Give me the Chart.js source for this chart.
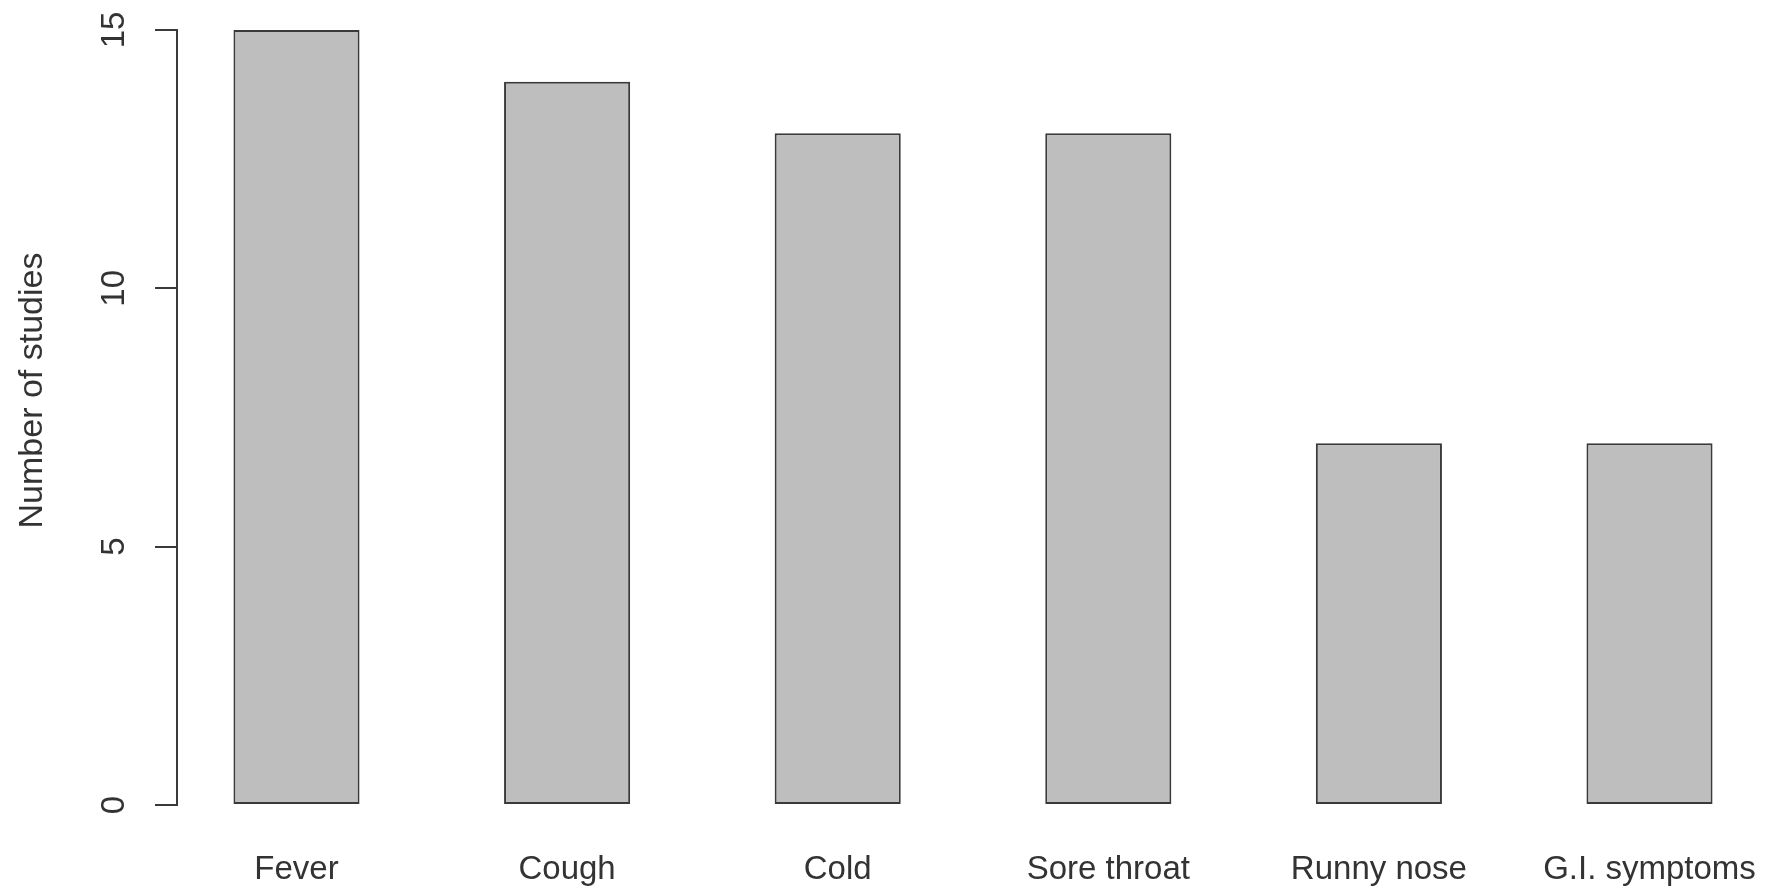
<!DOCTYPE html>
<html>
<head>
<meta charset="utf-8">
<script src="https://cdn.jsdelivr.net/npm/chart.js@4"></script>
<style>
  html, body { margin: 0; padding: 0; background: #ffffff; }
  #wrap { width: 1765px; height: 890px; }
</style>
</head>
<body>
<div id="wrap"><canvas id="c" width="1765" height="890"></canvas></div>
<script>
const categories = ["Fever", "Cough", "Cold", "Sore throat", "Runny nose", "G.I. symptoms"];
const studies = [15, 14, 13, 13, 7, 7];
const yTicks = [0, 5, 10, 15];
const yTitle = "Number of studies";

const FONT = "'Liberation Sans', Arial, Helvetica, sans-serif";
const TEXT = "#333333";
const LINE = "#3a3a3a";

const points = categories.map((c, i) => ({ x: i, y: studies[i] }));

// shift the y-axis title up a little (R centres it on the whole plot region)
const titleShift = {
  id: 'titleShift',
  beforeDraw(chart) {
    const s = chart.scales.y;
    if (s && !s._shiftPatched) {
      const orig = s.drawTitle.bind(s);
      s.drawTitle = function () {
        const ctx = this.ctx;
        ctx.save();
        ctx.translate(0, -27);
        orig();
        ctx.restore();
      };
      s._shiftPatched = true;
    }
  }
};

new Chart(document.getElementById('c'), {
  type: 'bar',
  data: {
    datasets: [{
      data: points,
      backgroundColor: '#bebebe',
      borderColor: LINE,
      borderWidth: 2,
      borderSkipped: false,
      categoryPercentage: 1,
      barPercentage: 0.466
    }]
  },
  plugins: [titleShift],
  options: {
    responsive: false,
    animation: false,
    devicePixelRatio: 1,
    layout: { padding: { top: 30, right: 5, bottom: 0, left: 0 } },
    plugins: { legend: { display: false }, tooltip: { enabled: false } },
    scales: {
      x: {
        type: 'linear',
        bounds: 'data',
        offset: false,
        min: -0.44161,
        max: 5.40835,
        grid: { display: false, drawTicks: false, offset: false },
        border: { display: false },
        afterBuildTicks: (scale) => {
          scale.ticks = categories.map((c, i) => ({ value: i }));
        },
        ticks: {
          autoSkip: false,
          maxRotation: 0,
          minRotation: 0,
          padding: 45,
          color: TEXT,
          font: { family: FONT, size: 33 },
          callback: (v) => categories[v] !== undefined ? categories[v] : ''
        },
        afterFit: (scale) => {
          scale.height = 85;
          scale.paddingLeft = 0; scale.paddingRight = 0;
        }
      },
      y: {
        min: 0,
        max: 15,
        bounds: 'data',
        afterBuildTicks: (scale) => {
          scale.ticks = yTicks.map(v => ({ value: v }));
        },
        grid: {
          drawOnChartArea: false,
          drawTicks: true,
          tickLength: 22,
          color: LINE,
          lineWidth: 2
        },
        border: { display: true, color: LINE, width: 2 },
        ticks: {
          minRotation: 90,
          maxRotation: 90,
          crossAlign: 'center',
          padding: 22,
          color: TEXT,
          font: { family: FONT, size: 33 }
        },
        title: {
          display: true,
          text: yTitle,
          color: TEXT,
          font: { family: FONT, size: 34 },
          padding: { top: 12, bottom: 0 }
        },
        afterFit: (scale) => {
          scale.width = 177;
          scale.paddingTop = 0; scale.paddingBottom = 0;
        }
      }
    }
  }
});
</script>
</body>
</html>
